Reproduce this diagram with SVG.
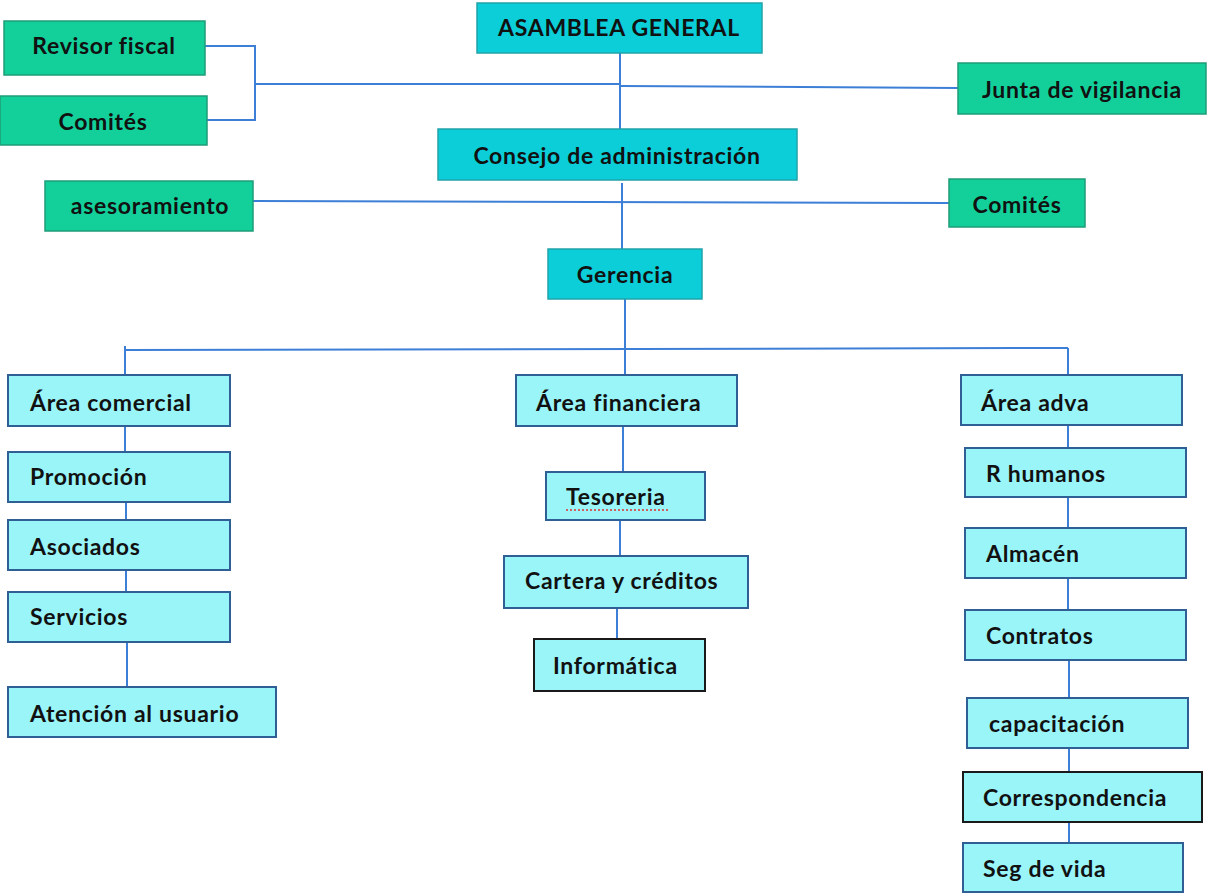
<svg xmlns="http://www.w3.org/2000/svg" width="1207" height="894" viewBox="0 0 1207 894">
<style>
.g rect{fill:#13d09b;stroke:#1f9c78;stroke-width:1.5}
.c rect{fill:#0bced8;stroke:#22a3ab;stroke-width:1.5}
.l rect{fill:#9af5f9;stroke:#2f5f95;stroke-width:2}
.k rect{fill:#9af5f9;stroke:#1a1a1a;stroke-width:2}
text{font-family:Lato,"Open Sans","Liberation Sans",sans-serif;font-weight:bold;font-size:23px;letter-spacing:0.7px;fill:#111}
.m{text-anchor:middle}
#conn path{fill:none;stroke:#3d7fd6;stroke-width:2}
</style>
<rect width="1207" height="894" fill="#fff"/>
<g id="conn">
<path d="M620 53V173"/>
<path d="M205 46H255V120H207"/>
<path d="M255 84H620"/>
<path d="M620 86L958 88"/>
<path d="M622 183V249"/>
<path d="M253 201L949 203"/>
<path d="M625 299V375"/>
<path d="M125 350L1068 348"/>
<path d="M125 346V375M125 426V452M126 502V520M126 570V592M127 642V687"/>
<path d="M623 426V472M620 520V556M617 608V639"/>
<path d="M1068 348V375M1068 425V448M1068 497V528M1068 578V610M1069 660V698M1069 748V772M1069 822V843"/>
</g>
<g id="revisor" class="g"><rect x="4" y="21" width="201" height="54"/><text class="m" x="104" y="54">Revisor fiscal</text></g>
<g id="comites1" class="g"><rect x="0" y="96" width="207" height="49"/><text class="m" x="103" y="130">Comités</text></g>
<g id="asesor" class="g"><rect x="45" y="181" width="208" height="50"/><text class="m" x="150" y="214">asesoramiento</text></g>
<g id="junta" class="g"><rect x="958" y="63" width="248" height="51"/><text class="m" x="1082" y="98">Junta de vigilancia</text></g>
<g id="comites2" class="g"><rect x="949" y="179" width="136" height="48"/><text class="m" x="1017" y="213">Comités</text></g>
<g id="asamblea" class="c"><rect x="477" y="3" width="285" height="50"/><text class="m" x="619" y="36">ASAMBLEA GENERAL</text></g>
<g id="consejo" class="c"><rect x="438" y="129" width="359" height="51"/><text class="m" x="617" y="164">Consejo de administración</text></g>
<g id="gerencia" class="c"><rect x="548" y="249" width="154" height="50"/><text class="m" x="625" y="283">Gerencia</text></g>
<g id="comercial" class="l"><rect x="8" y="375" width="222" height="51"/><text x="30" y="411">Área comercial</text></g>
<g id="promocion" class="l"><rect x="8" y="452" width="222" height="50"/><text x="30" y="485">Promoción</text></g>
<g id="asociados" class="l"><rect x="8" y="520" width="222" height="50"/><text x="30" y="555">Asociados</text></g>
<g id="servicios" class="l"><rect x="8" y="592" width="222" height="50"/><text x="30" y="625">Servicios</text></g>
<g id="atencion" class="l"><rect x="8" y="687" width="268" height="50"/><text x="30" y="722">Atención al usuario</text></g>
<g id="financiera" class="l"><rect x="516" y="375" width="221" height="51"/><text x="536" y="411">Área financiera</text></g>
<g id="tesoreria" class="l"><rect x="546" y="472" width="159" height="48"/><text x="566" y="505">Tesoreria</text><path d="M566 510H668" stroke="#e03030" stroke-width="1.5" stroke-dasharray="2 2" fill="none"/></g>
<g id="cartera" class="l"><rect x="504" y="556" width="244" height="52"/><text x="525" y="589">Cartera y créditos</text></g>
<g id="informatica" class="k"><rect x="534" y="639" width="171" height="52"/><text x="553" y="674">Informática</text></g>
<g id="adva" class="l"><rect x="961" y="375" width="221" height="50"/><text x="981" y="411">Área adva</text></g>
<g id="rhumanos" class="l"><rect x="965" y="448" width="221" height="49"/><text x="986" y="482">R humanos</text></g>
<g id="almacen" class="l"><rect x="965" y="528" width="221" height="50"/><text x="986" y="562">Almacén</text></g>
<g id="contratos" class="l"><rect x="965" y="610" width="221" height="50"/><text x="986" y="644">Contratos</text></g>
<g id="capacitacion" class="l"><rect x="967" y="698" width="221" height="50"/><text x="989" y="732">capacitación</text></g>
<g id="correspondencia" class="k"><rect x="963" y="772" width="239" height="50"/><text x="983" y="806">Correspondencia</text></g>
<g id="segvida" class="l"><rect x="963" y="843" width="220" height="49"/><text x="983" y="877">Seg de vida</text></g>
</svg>
